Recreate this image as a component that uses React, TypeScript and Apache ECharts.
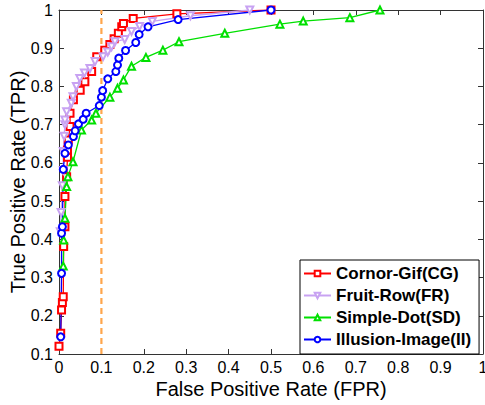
import React, { useEffect, useRef } from "react";
import * as echarts from "echarts";

const seriesNames = ["Cornor-Gif(CG)", "Fruit-Row(FR)", "Simple-Dot(SD)", "Illusion-Image(II)"];

const cornorGif: number[][] = [
  [0, 0.12], [0.004, 0.154], [0.006, 0.215], [0.008, 0.235], [0.01, 0.25], [0.011, 0.381],
  [0.014, 0.433], [0.014, 0.512], [0.018, 0.564], [0.02, 0.615], [0.02, 0.634], [0.022, 0.66],
  [0.026, 0.695], [0.026, 0.73], [0.034, 0.765], [0.05, 0.79], [0.061, 0.812], [0.077, 0.839],
  [0.089, 0.878], [0.108, 0.895], [0.12, 0.91], [0.13, 0.925], [0.14, 0.939], [0.148, 0.956],
  [0.152, 0.965], [0.175, 0.978], [0.278, 0.99], [0.5, 1.0],
];

const fruitRow: number[][] = [
  [0.003, 0.42], [0.005, 0.47], [0.008, 0.54], [0.01, 0.58], [0.01, 0.63], [0.012, 0.67],
  [0.014, 0.7], [0.014, 0.712], [0.018, 0.734], [0.029, 0.756], [0.033, 0.773], [0.041, 0.8],
  [0.049, 0.821], [0.06, 0.835], [0.073, 0.847], [0.085, 0.865], [0.104, 0.878], [0.115, 0.89],
  [0.124, 0.904], [0.132, 0.917], [0.155, 0.923], [0.171, 0.944], [0.19, 0.957], [0.22, 0.97],
  [0.31, 0.985], [0.45, 1.0],
];

const simpleDot: number[][] = [
  [0.01, 0.33], [0.011, 0.398], [0.014, 0.455], [0.018, 0.538], [0.021, 0.564], [0.033, 0.603],
  [0.053, 0.686], [0.077, 0.712], [0.087, 0.73], [0.12, 0.772], [0.138, 0.795], [0.152, 0.817],
  [0.171, 0.853], [0.205, 0.876], [0.245, 0.895], [0.283, 0.917], [0.391, 0.939], [0.521, 0.963],
  [0.576, 0.971], [0.686, 0.98], [0.757, 1.0],
];

const illusionImage: number[][] = [
  [0.004, 0.145], [0.006, 0.311], [0.006, 0.416], [0.008, 0.433], [0.01, 0.583], [0.014, 0.625],
  [0.022, 0.647], [0.034, 0.669], [0.038, 0.684], [0.046, 0.702], [0.057, 0.714], [0.064, 0.73],
  [0.095, 0.75], [0.1, 0.772], [0.103, 0.789], [0.115, 0.82], [0.134, 0.839], [0.138, 0.856],
  [0.141, 0.874], [0.157, 0.894], [0.181, 0.915], [0.189, 0.936], [0.21, 0.956], [0.281, 0.975],
  [0.5, 1.0],
];

const thresholdLine: number[][] = [[0.1, 0.1], [0.1, 1.0]];

const FONT = "'Liberation Sans', Arial, sans-serif";
const AXIS_COLOR = "#333";

const fmt = (v: number) => {
  const r = Math.round(v * 10) / 10;
  return r === 0 ? "0" : r === 1 ? "1" : r.toFixed(1);
};

export default function App() {
  const ref = useRef<HTMLDivElement>(null);
  useEffect(() => {
    if (!ref.current) return;
    const chart = echarts.init(ref.current, null, { renderer: "svg" });
    const baseAxis = {
      type: "value" as const,
      axisLine: { show: true, onZero: false, lineStyle: { color: AXIS_COLOR, width: 1 } },
      axisTick: { show: true, inside: true, length: 5, lineStyle: { color: AXIS_COLOR } },
      splitLine: { show: false },
    };
    const mkSeries = (name: string, data: number[][], color: string, symbol: string, rotate = 0) => ({
      name,
      type: "line",
      data,
      symbol,
      symbolSize: 7,
      symbolRotate: rotate,
      showAllSymbol: true,
      lineStyle: { color, width: 1.3 },
      itemStyle: { color, borderColor: color, borderWidth: 1.2 },
      clip: true,
      z: 3,
    });
    chart.setOption({
      animation: false,
      backgroundColor: "#fff",
      grid: { left: 59, right: 2, top: 10, bottom: 51, containLabel: false, outerBoundsMode: "none" },
      xAxis: [
        {
          ...baseAxis,
          min: 0, max: 1, interval: 0.1, position: "bottom",
          axisLabel: { fontSize: 16, color: "#000", fontFamily: FONT, margin: 5, formatter: fmt },
          name: "False Positive Rate (FPR)",
          nameLocation: "middle",
          nameGap: 25,
          nameMoveOverlap: false,
          nameTextStyle: { fontSize: 20, color: "#000", fontFamily: FONT },
        },
        {
          ...baseAxis,
          min: 0, max: 1, interval: 0.1, position: "top",
          axisLabel: { show: false },
        },
      ],
      yAxis: [
        {
          ...baseAxis,
          min: 0.1, max: 1, interval: 0.1, position: "left",
          axisLabel: { fontSize: 16, color: "#000", fontFamily: FONT, margin: 6, formatter: fmt },
          name: "True Positive Rate (TPR)",
          nameLocation: "middle",
          nameGap: 31,
          nameMoveOverlap: false,
          nameTextStyle: { fontSize: 20, color: "#000", fontFamily: FONT },
        },
        {
          ...baseAxis,
          min: 0.1, max: 1, interval: 0.1, position: "right",
          axisLabel: { show: false },
        },
      ],
      legend: {
        orient: "vertical",
        left: 300,
        top: 260,
        padding: [5, 8, 6, 3],
        itemGap: 5,
        itemWidth: 27,
        itemHeight: 7,
        borderColor: "#000",
        borderWidth: 1,
        borderRadius: 0,
        backgroundColor: "#fff",
        data: seriesNames,
        textStyle: { fontSize: 17, fontWeight: "bold", fontFamily: FONT, color: "#000" },
      },
      series: [
        {
          name: "threshold",
          type: "line",
          data: thresholdLine,
          symbol: "none",
          silent: true,
          lineStyle: { color: "#FFA64D", width: 2.2, type: [6, 4] },
          z: 2,
        },
        mkSeries(seriesNames[0], cornorGif, "#FF0000", "emptyRect"),
        mkSeries(seriesNames[1], fruitRow, "#C8A2F2", "emptyTriangle", 180),
        mkSeries(seriesNames[2], simpleDot, "#00E000", "emptyTriangle"),
        mkSeries(seriesNames[3], illusionImage, "#0000FF", "emptyCircle"),
      ],
    });
    return () => chart.dispose();
  }, []);
  return (
    <div
      ref={ref}
      style={{ position: "fixed", left: 0, top: 0, width: 485, height: 405 }}
    />
  );
}
